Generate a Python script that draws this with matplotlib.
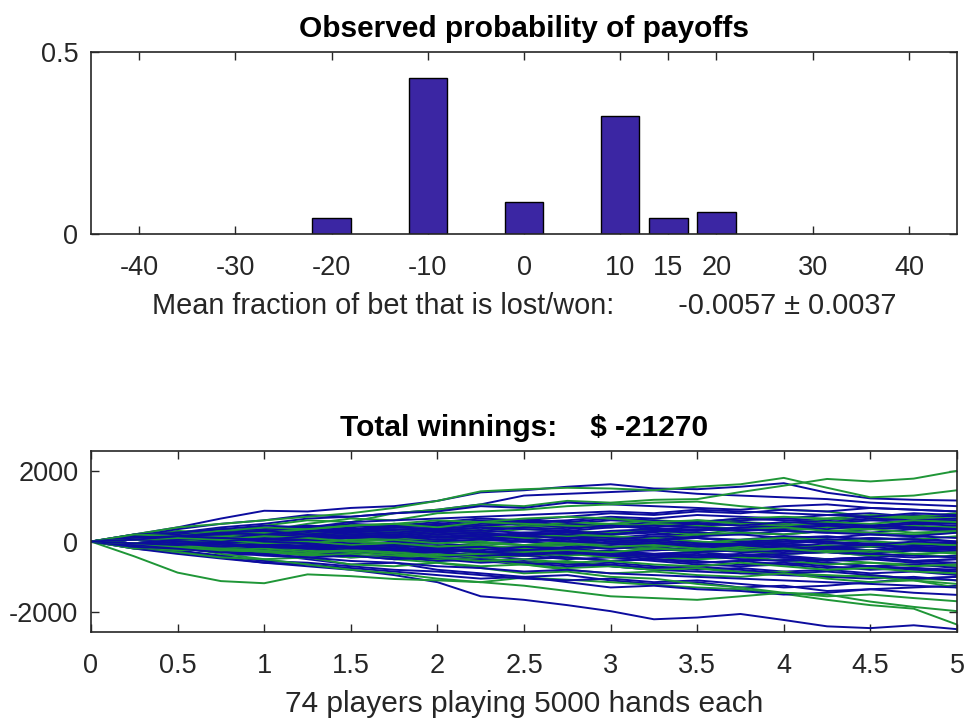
import numpy as np
import matplotlib
matplotlib.use("Agg")
import matplotlib.pyplot as plt

plt.rcParams['font.family'] = ['Liberation Sans', 'DejaVu Sans']

# ---------------- payoff histogram ----------------
payoffs = [-20, -10, 0, 10, 15, 20]
probs = [0.043, 0.428, 0.089, 0.324, 0.043, 0.060]
payoff_ticks = [-40, -30, -20, -10, 0, 10, 15, 20, 30, 40]
mean_txt = '-0.0057'
err_txt = '0.0037'

# ---------------- winnings of each player (thousands of hands) ----------------
hands_k = [0, 0.25, 0.5, 0.75, 1.0, 1.25, 1.5, 1.75, 2.0, 2.25, 2.5,
           2.75, 3.0, 3.25, 3.5, 3.75, 4.0, 4.25, 4.5, 4.75, 5.0]

green_walks = [
    [0, -420, -880, -1120, -1180, -930, -980, -1060, -1100, -1150, -1020, -1080, -1150, -1230, -1300, -1350, -1480, -1650, -1800, -1900, -2350],
    [0, 150, 300, 250, 450, 600, 550, 800, 900, 1050, 1000, 1150, 1100, 1180, 1200, 1400, 1580, 1770, 1700, 1780, 2000],
    [0, 200, 400, 500, 600, 700, 800, 950, 1150, 1420, 1480, 1520, 1500, 1450, 1550, 1620, 1800, 1520, 1250, 1300, 1450],
    [0, 100, 250, 350, 300, 500, 650, 600, 800, 850, 900, 1000, 1050, 1100, 1130, 1000, 900, 850, 700, 650, 600],
    [0, -150, -300, -450, -500, -650, -800, -900, -1050, -1150, -1250, -1400, -1550, -1600, -1650, -1550, -1450, -1550, -1500, -1600, -1690],
    [0, -200, -150, -350, -500, -450, -650, -700, -600, -750, -900, -850, -1000, -1050, -1200, -1300, -1450, -1500, -1700, -1850, -1970],
    [0, 100, 50, 200, 150, 300, 250, 200, 350, 300, 450, 400, 500, 450, 600, 550, 500, 650, 600, 700, 650],
    [0, -100, -50, -200, -150, -100, -250, -300, -200, -350, -300, -400, -350, -450, -500, -400, -550, -500, -600, -650, -700],
    [0, 50, 150, 100, 250, 200, 150, 300, 250, 200, 100, 150, 50, 100, 0, -50, 50, 0, 100, 50, 150],
    [0, -50, -150, -100, -250, -350, -300, -400, -500, -450, -600, -550, -700, -800, -750, -900, -850, -1000, -950, -1050, -1100],
    [0, 150, 100, 250, 350, 300, 200, 250, 150, 100, 200, 150, 250, 300, 200, 350, 300, 400, 350, 450, 400],
    [0, -150, -100, -50, -150, -250, -200, -100, -150, -50, -100, 0, -50, -150, -100, -200, -150, -250, -300, -250, -350],
    [0, 100, 200, 150, 50, 100, 0, -50, -150, -100, -200, -250, -150, -200, -300, -250, -350, -300, -400, -350, -450],
    [0, -50, 50, 0, 100, 200, 300, 250, 350, 450, 400, 550, 500, 600, 550, 650, 700, 650, 750, 700, 800],
    [0, -100, -200, -300, -250, -350, -450, -400, -550, -500, -650, -750, -700, -800, -750, -850, -900, -950, -1000, -1100, -1200],
    [0, 50, -50, -100, 0, -50, 50, 100, 50, 150, 100, 200, 150, 100, 200, 250, 200, 300, 250, 200, 250],
    [0, -100, -200, -150, -250, -200, -300, -400, -350, -450, -400, -350, -450, -400, -500, -450, -550, -650, -600, -700, -650],
    [0, 150, 250, 300, 400, 350, 450, 500, 400, 550, 500, 450, 400, 500, 450, 350, 400, 300, 350, 250, 300],
    [0, -50, -100, -200, -300, -400, -350, -500, -600, -700, -650, -800, -900, -850, -950, -1000, -900, -1050, -1150, -1100, -1300],
    [0, 100, 0, 50, -50, 0, -100, -50, -150, -200, -150, -100, -50, 0, -50, 50, 100, 50, 0, -50, -100],
    [0, -150, -250, -200, -300, -350, -250, -300, -400, -350, -300, -250, -300, -200, -250, -150, -200, -100, -150, -50, -100],
    [0, 200, 150, 300, 250, 350, 450, 500, 600, 550, 650, 700, 650, 550, 600, 500, 450, 550, 500, 600, 550],
    [0, -50, -150, -250, -200, -300, -250, -350, -450, -550, -500, -600, -550, -650, -700, -600, -700, -800, -750, -850, -900],
    [0, 50, 100, 50, 150, 100, 0, 50, -50, 0, -100, -50, -150, -100, -200, -250, -200, -300, -250, -350, -300],
    [0, -100, 0, 100, 50, 150, 100, 200, 300, 250, 350, 300, 250, 350, 300, 400, 350, 450, 400, 350, 450],
]

blue_walks = [
    [0, -200, -350, -480, -600, -700, -800, -950, -1150, -1550, -1650, -1800, -1970, -2200, -2150, -2050, -2220, -2400, -2450, -2370, -2480],
    [0, -100, -250, -400, -350, -500, -650, -600, -800, -900, -1000, -950, -1100, -1200, -1150, -1300, -1250, -1400, -1350, -1450, -1510],
    [0, 200, 400, 650, 870, 850, 950, 1000, 1150, 1390, 1450, 1550, 1620, 1500, 1480, 1550, 1650, 1380, 1220, 1180, 1160],
    [0, 100, 250, 400, 500, 650, 700, 800, 900, 1050, 1300, 1350, 1400, 1450, 1350, 1300, 1250, 1200, 1100, 1050, 1000],
    [0, 150, 350, 500, 600, 750, 700, 800, 850, 1000, 950, 1100, 1050, 1000, 950, 900, 1000, 1050, 950, 900, 850],
    [0, -150, -300, -450, -600, -650, -750, -850, -950, -1050, -1000, -1150, -1300, -1250, -1350, -1400, -1500, -1450, -1350, -1300, -1250],
    [0, -200, -300, -400, -550, -600, -700, -800, -850, -950, -1050, -1100, -1050, -1150, -1100, -1200, -1300, -1250, -1150, -1050, -1000],
    [0, 100, 200, 150, 300, 250, 350, 300, 400, 350, 450, 500, 450, 550, 500, 600, 650, 600, 700, 750, 700],
    [0, -100, -50, -150, -100, -200, -150, -250, -200, -300, -250, -350, -300, -400, -350, -450, -400, -500, -450, -550, -500],
    [0, 50, 100, 200, 150, 250, 200, 100, 150, 50, 100, 0, 50, -50, 0, -100, -50, -150, -100, -200, -150],
    [0, -50, -150, -100, -200, -300, -250, -350, -300, -400, -500, -450, -550, -500, -600, -550, -650, -600, -700, -750, -800],
    [0, 150, 100, 200, 300, 250, 350, 400, 350, 300, 250, 300, 200, 250, 150, 200, 100, 150, 50, 100, 0],
    [0, -100, -200, -300, -250, -150, -200, -100, -150, -50, -100, -200, -150, -250, -200, -300, -350, -300, -400, -450, -400],
    [0, 100, 50, 150, 250, 350, 300, 400, 500, 450, 550, 600, 700, 650, 750, 700, 650, 750, 800, 700, 750],
    [0, -50, 50, 0, -100, -50, -150, -100, -200, -150, -250, -300, -250, -350, -400, -350, -450, -500, -450, -550, -600],
    [0, 200, 250, 350, 300, 400, 450, 400, 500, 600, 550, 500, 600, 550, 450, 500, 400, 450, 350, 400, 300],
    [0, -150, -100, -200, -300, -350, -450, -400, -500, -600, -550, -650, -600, -700, -800, -750, -850, -800, -900, -850, -950],
    [0, 50, 0, 100, 50, 0, 100, 50, 150, 100, 200, 150, 100, 200, 150, 250, 200, 300, 250, 350, 300],
    [0, -100, -150, -50, -100, 0, -50, -150, -100, -200, -150, -100, -200, -150, -250, -200, -100, -150, -50, -100, -150],
    [0, 150, 250, 200, 300, 400, 500, 450, 550, 650, 600, 700, 800, 750, 850, 800, 900, 850, 950, 900, 850],
    [0, -50, -100, -200, -150, -250, -350, -300, -400, -450, -400, -500, -450, -550, -650, -700, -650, -750, -700, -800, -850],
    [0, 100, 150, 100, 200, 150, 100, 0, 50, -50, 0, -100, -50, -150, -100, -200, -250, -200, -300, -250, -300],
    [0, -150, -250, -150, -50, 0, 100, 50, 150, 100, 200, 250, 200, 300, 250, 200, 300, 250, 350, 400, 350],
    [0, 50, 150, 250, 200, 300, 350, 300, 200, 250, 150, 200, 100, 50, 100, 0, 50, -50, 0, -100, -50],
    [0, -100, -50, 0, 100, 50, 0, -100, -50, -150, -250, -200, -300, -350, -300, -400, -450, -550, -500, -600, -650],
    [0, 100, 200, 300, 350, 450, 400, 500, 450, 550, 500, 400, 450, 350, 400, 300, 350, 450, 400, 500, 550],
    [0, -50, -150, -250, -350, -300, -400, -500, -450, -550, -650, -600, -700, -800, -850, -900, -950, -1000, -1050, -1000, -1100],
    [0, 50, -50, -100, -50, 50, 0, 100, 50, 150, 200, 250, 200, 300, 350, 300, 400, 350, 450, 500, 450],
    [0, -100, -200, -150, -100, -200, -300, -250, -200, -300, -250, -150, -200, -100, -150, -50, -100, -200, -150, -250, -200],
    [0, 150, 200, 300, 250, 350, 300, 250, 350, 450, 500, 450, 400, 500, 550, 650, 600, 550, 650, 600, 650],
    [0, -50, 0, -100, -200, -150, -250, -200, -300, -400, -350, -450, -550, -500, -600, -550, -500, -600, -700, -650, -750],
    [0, 100, 0, 50, 150, 100, 200, 150, 250, 200, 150, 100, 150, 50, 100, 0, -50, 0, -100, -50, -100],
    [0, -150, -50, -100, -200, -100, -150, -50, 0, 50, 0, 100, 50, 150, 100, 50, 150, 100, 200, 150, 250],
    [0, 50, 150, 200, 300, 400, 350, 450, 400, 500, 600, 550, 650, 600, 500, 550, 450, 500, 600, 550, 500],
    [0, -100, -150, -250, -200, -300, -400, -450, -550, -500, -600, -700, -650, -750, -700, -800, -900, -850, -950, -1050, -1000],
    [0, 100, 50, 0, -50, -150, -100, -200, -250, -200, -300, -350, -300, -400, -450, -400, -350, -300, -350, -250, -300],
    [0, -50, -100, 0, 50, 100, 150, 100, 200, 150, 250, 200, 300, 350, 300, 400, 450, 500, 450, 550, 600],
    [0, 150, 100, 50, 150, 200, 100, 150, 50, 100, 0, 50, -50, -100, -50, -150, -200, -150, -250, -200, -250],
    [0, -100, -200, -300, -400, -450, -400, -500, -450, -350, -400, -300, -350, -450, -400, -500, -550, -500, -450, -550, -500],
    [0, 100, 200, 250, 200, 300, 250, 350, 300, 400, 350, 300, 400, 450, 400, 350, 300, 250, 200, 150, 100],
    [0, -50, 50, 100, 0, -50, -150, -100, -200, -150, -250, -200, -300, -250, -200, -150, -250, -300, -350, -400, -450],
    [0, 50, -50, -150, -100, -200, -250, -350, -300, -400, -350, -300, -400, -500, -550, -650, -600, -700, -800, -750, -850],
    [0, 150, 250, 350, 450, 400, 550, 600, 650, 700, 750, 800, 850, 800, 900, 850, 800, 750, 700, 800, 750],
    [0, -100, 0, -50, -150, -200, -150, -250, -300, -250, -150, -200, -100, -50, -150, -100, -200, -150, -100, 0, -50],
    [0, 50, 100, 0, 100, 50, 150, 200, 300, 250, 150, 100, 0, 50, -50, -100, -150, -50, -100, -150, -200],
    [0, -150, -200, -300, -350, -450, -550, -600, -700, -750, -850, -800, -900, -950, -1000, -1050, -1100, -1150, -1200, -1250, -1300],
    [0, 100, 150, 250, 300, 200, 300, 400, 350, 300, 400, 350, 450, 400, 500, 450, 550, 500, 450, 400, 350],
    [0, -50, -100, -50, -150, -100, -200, -150, -250, -300, -350, -300, -400, -350, -300, -250, -300, -200, -250, -150, -200],
    [0, 50, 150, 100, 50, 150, 250, 200, 100, 150, 50, 0, -50, 0, -100, -50, 0, 50, 100, 50, 0],
]

n_players = 74
n_hands = 5000
total_txt = '-21270'

txt_col = '#262626'
bar_col = '#3B26A3'
blue = '#0C0C9E'
green = '#1F9637'

fig = plt.figure(figsize=(9.66, 7.19), dpi=100)
ax1 = fig.add_axes([0.0942, 0.6745, 0.8965, 0.2531])
ax2 = fig.add_axes([0.0942, 0.1210, 0.8965, 0.2517])

# ---- top: histogram of payoffs
ax1.bar(payoffs, probs, width=4, color=bar_col, edgecolor='black', linewidth=1.0, zorder=2)
ax1.set_xlim(-45, 45)
ax1.set_ylim(0, 0.5)
ax1.set_xticks(payoff_ticks)
ax1.set_xticklabels([str(v) for v in payoff_ticks])
ax1.set_yticks([0, 0.5])
ax1.set_yticklabels(['0', '0.5'])
ax1.set_title('Observed probability of payoffs', fontsize=21.5, fontweight='bold', pad=11)
ax1.set_xlabel('Mean fraction of bet that is lost/won:        ' + mean_txt + ' \u00b1 ' + err_txt,
               fontsize=20.8, color=txt_col, labelpad=8)

# ---- bottom: running winnings of each player
x = np.array(hands_k)
nb = len(blue_walks)
ng = len(green_walks)
gi = 0
for i in range(nb):
    ax2.plot(x, blue_walks[i], color=blue, lw=1.4, zorder=2)
    if i % 2 == 1 and gi < ng:
        ax2.plot(x, green_walks[gi], color=green, lw=1.4, zorder=2)
        gi += 1
while gi < ng:
    ax2.plot(x, green_walks[gi], color=green, lw=1.4, zorder=1)
    gi += 1

ax2.set_xlim(0, 5)
ax2.set_ylim(-2560, 2560)
ax2.set_xticks([0, 0.5, 1, 1.5, 2, 2.5, 3, 3.5, 4, 4.5, 5])
ax2.set_xticklabels(['0', '0.5', '1', '1.5', '2', '2.5', '3', '3.5', '4', '4.5', '5'])
ax2.set_yticks([-2000, 0, 2000])
ax2.set_yticklabels(['-2000', '0', '2000'])
ax2.set_title('Total winnings:    $ ' + total_txt, fontsize=21.5, fontweight='bold', pad=11)
ax2.set_xlabel('%d players playing %d hands each' % (n_players, n_hands),
               fontsize=21.5, color=txt_col, labelpad=8)

for ax in (ax1, ax2):
    ax.tick_params(direction='in', length=6, width=1.0, colors=txt_col,
                   labelsize=19.5, top=True, right=True)
    ax.tick_params(axis='x', pad=15)
    ax.tick_params(axis='y', pad=9)
    for s in ax.spines.values():
        s.set_color(txt_col)
        s.set_linewidth(1.2)

fig.savefig('out.png', dpi=100)
